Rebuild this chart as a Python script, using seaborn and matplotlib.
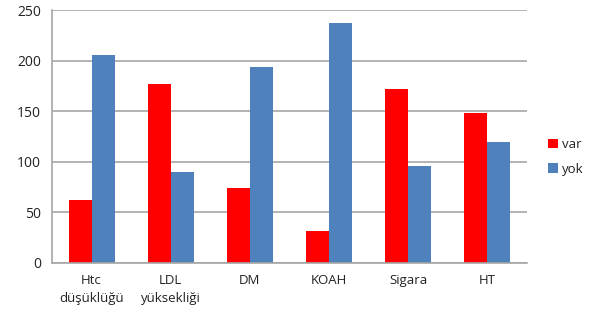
import matplotlib
matplotlib.use("Agg")
import matplotlib.pyplot as plt
import seaborn as sns
import pandas as pd

categories = ["Htc\ndüşüklüğü", "LDL\nyüksekliği", "DM", "KOAH", "Sigara", "HT"]
var_values = [62, 177, 74, 32, 172, 148]
yok_values = [206, 90, 194, 237, 96, 120]
series_names = ["var", "yok"]
colors = ["#FF0000", "#4F81BD"]

df = pd.DataFrame({
    "cat": categories * 2,
    "value": var_values + yok_values,
    "series": [series_names[0]] * len(categories) + [series_names[1]] * len(categories),
})

sns.set_style("white")
plt.rcParams["font.family"] = ["Open Sans", "DejaVu Sans"]

fig = plt.figure(figsize=(5.89, 3.2), dpi=100)
ax = fig.add_axes([52/589, 1 - 263/320, (527-52)/589, (263-10)/320])

sns.barplot(data=df, x="cat", y="value", hue="series", palette=colors,
            width=0.58, saturation=1, ax=ax, legend=True, linewidth=0)

ax.set_ylim(0, 250)
ax.set_yticks([0, 50, 100, 150, 200, 250])
ax.set_xlim(-0.5, len(categories) - 0.5)
ax.yaxis.grid(True, color="#a6a6a6", linewidth=1.2)
ax.set_axisbelow(True)
ax.set_xlabel("")
ax.set_ylabel("")
for s in ["top", "right"]:
    ax.spines[s].set_visible(False)
for s in ["left", "bottom"]:
    ax.spines[s].set_color("#a6a6a6")
    ax.spines[s].set_linewidth(1.2)

ax.tick_params(axis="y", length=4, color="#a6a6a6", labelsize=10, labelcolor="#222222", pad=4)
ax.tick_params(axis="x", length=0, labelsize=9.5, labelcolor="#222222", pad=8)
ax.set_xticks(range(len(categories)))
ax.set_xticklabels(categories, linespacing=1.5, va="top")
ax.set_xticks([i - 0.5 for i in range(len(categories) + 1)], minor=True)
ax.tick_params(axis="x", which="minor", length=5, color="#a6a6a6", width=1.2)

leg = ax.legend(loc="center left", bbox_to_anchor=(1.02, 0.42), frameon=False,
                fontsize=9.5, handlelength=0.7, handleheight=0.7, handletextpad=0.3,
                labelspacing=0.9)
for t in leg.get_texts():
    t.set_color("#222222")

fig.savefig("out.png", dpi=100)
